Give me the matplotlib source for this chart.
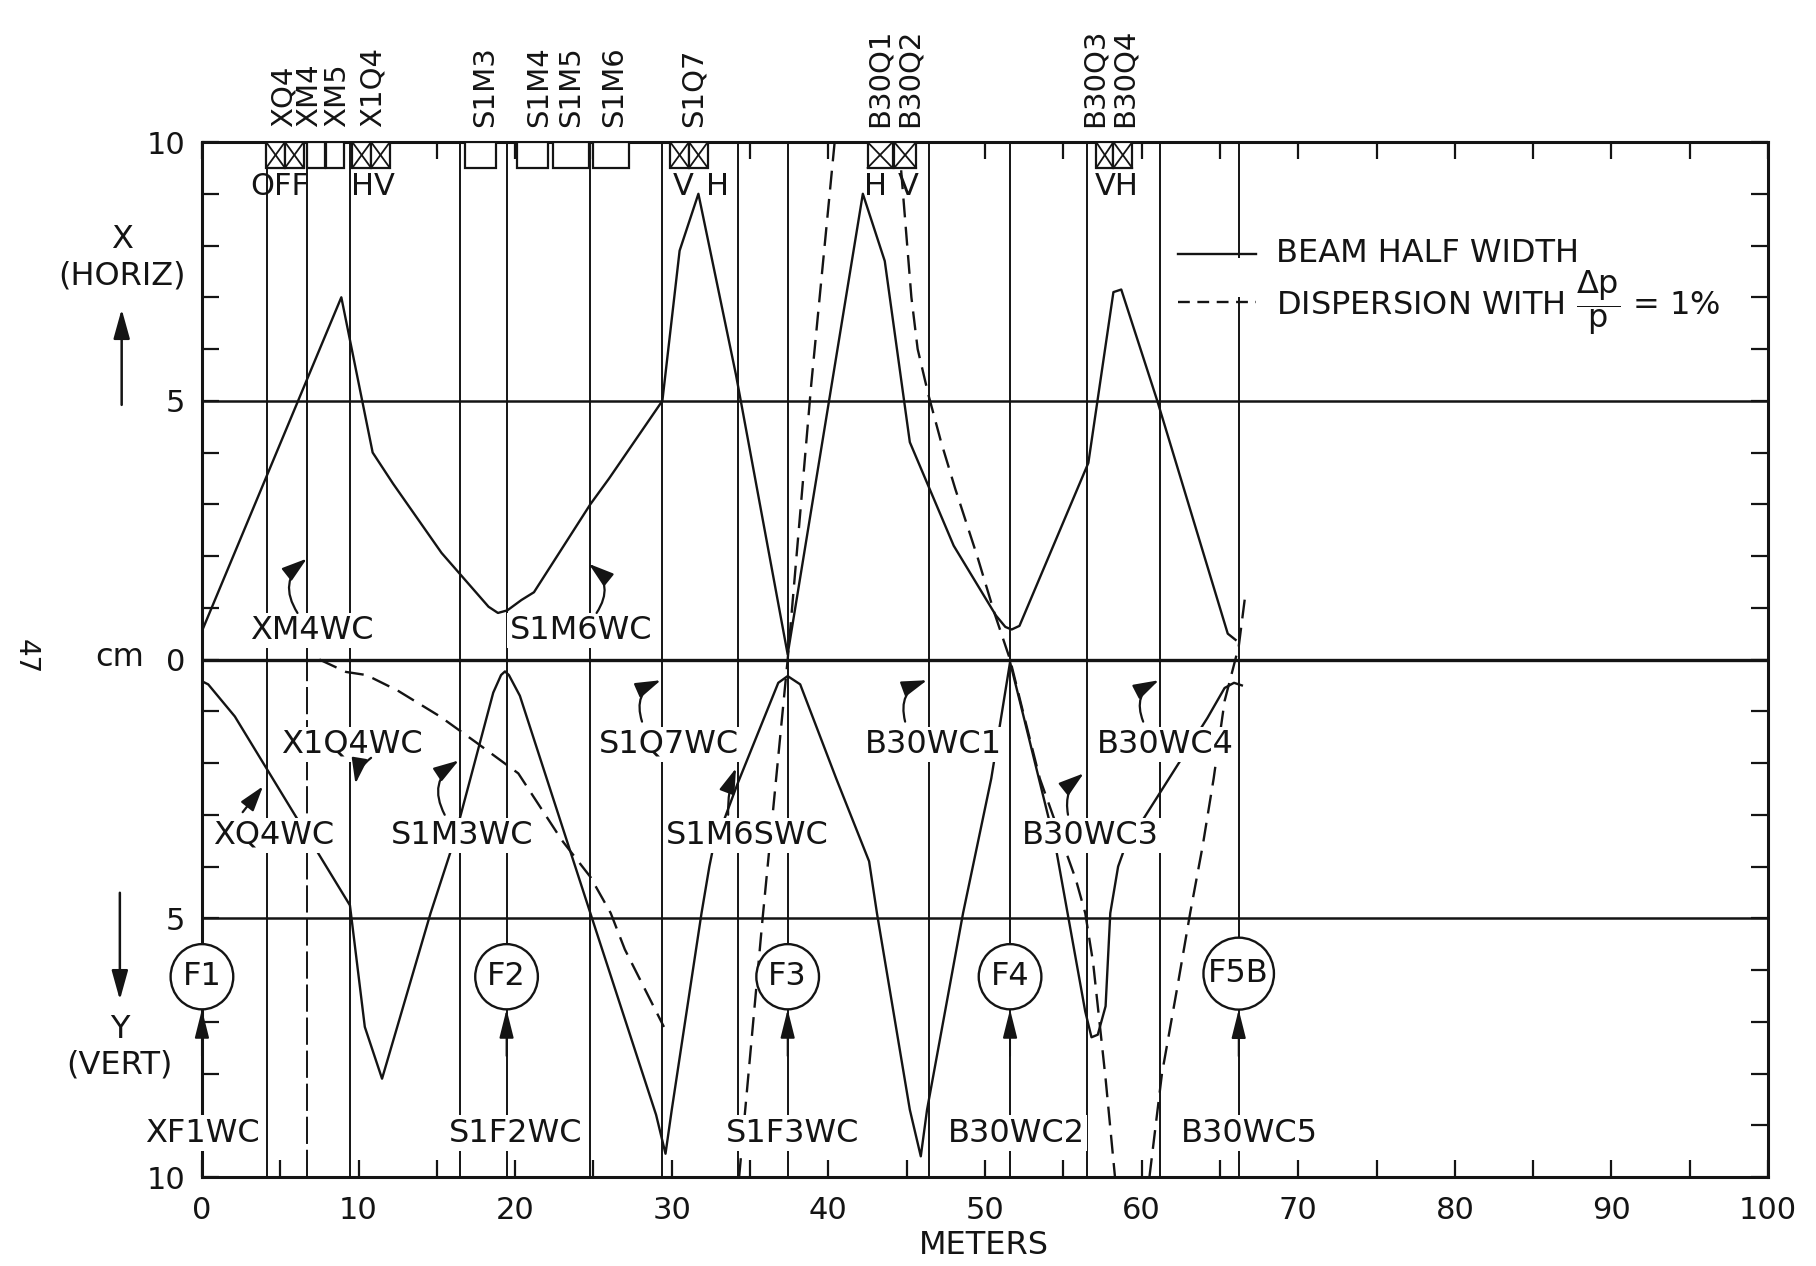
import matplotlib
matplotlib.use("Agg")
from matplotlib import pyplot as plt
from matplotlib import rcParams
from matplotlib.patches import Rectangle, Ellipse, FancyArrowPatch

ink = "#141414"

rcParams["font.family"] = ["DejaVu Sans"]
rcParams["font.size"] = 22
rcParams["text.color"] = ink
rcParams["axes.edgecolor"] = ink
rcParams["xtick.color"] = ink
rcParams["ytick.color"] = ink
rcParams["mathtext.fontset"] = "dejavusans"

# beam half width, horizontal (cm, plotted upward)
hx_s = [0, 8.9, 10.9, 12.2, 15.3, 18.3, 18.9, 19.5, 20.4, 21.2, 24.8, 26.0, 29.4,
        30.5, 31.7, 34.1, 37.4, 42.2, 43.6, 45.2, 48.0, 50.7, 51.3, 51.7, 52.2,
        56.6, 58.2, 58.7, 61.0, 65.5, 66.0]
hx_v = [0.55, 7.0, 4.0, 3.4, 2.06, 1.02, 0.9, 0.95, 1.15, 1.3, 3.0, 3.5, 5.0,
        7.9, 9.0, 5.5, 0.1, 9.0, 7.7, 4.2, 2.2, 0.85, 0.63, 0.58, 0.65,
        3.8, 7.1, 7.15, 5.0, 0.5, 0.38]

# beam half width, vertical (cm, plotted downward)
vy_s = [0, 0.4, 2.1, 9.45, 10.4, 11.5, 14.6, 16.0, 18.6, 19.1, 19.35, 19.6, 20.3,
        24.8, 29.0, 29.6, 30.0, 31.9, 32.4, 32.6, 34.2, 36.8, 37.4, 38.2, 40.5,
        42.6, 43.1, 45.2, 45.9, 46.3, 48.6, 50.4, 51.6, 52.3, 54.5, 56.4, 56.8,
        57.2, 57.7, 58.0, 58.5, 58.9, 64.2, 65.3, 65.9, 66.4]
vy_v = [0.42, 0.48, 1.1, 4.75, 7.1, 8.1, 4.9, 3.6, 0.64, 0.3, 0.23, 0.3, 0.7,
        4.9, 8.8, 9.55, 8.7, 4.9, 4.0, 3.7, 2.4, 0.45, 0.32, 0.48, 2.3,
        3.9, 4.9, 8.7, 9.6, 8.7, 4.9, 2.3, 0.05, 0.9, 3.6, 6.8, 7.3,
        7.25, 6.7, 4.9, 4.0, 3.66, 1.13, 0.55, 0.45, 0.5]

# dispersion with dp/p = 1% (cm, signed)
disp_a_s = [7.5, 9.2, 10.5, 12.5, 15.2, 17.5, 20.2, 23.0, 24.8, 26.1, 27.0, 29.5]
disp_a_v = [0.0, -0.24, -0.3, -0.6, -1.1, -1.6, -2.2, -3.5, -4.2, -4.9, -5.6, -7.1]
disp_b_s = [34.3, 35.8, 37.4, 38.9, 40.4]
disp_b_v = [-10.0, -5.0, 0.0, 5.3, 10.0]
disp_c_s = [44.5, 44.9, 45.3, 45.7, 46.4, 47.2, 48.1, 49.5, 50.6, 51.6, 52.5, 53.5,
            54.5, 55.8, 56.4, 56.9, 57.7, 58.3]
disp_c_v = [10.0, 8.5, 7.0, 6.0, 5.1, 4.2, 3.3, 2.0, 0.9, 0.0, -1.1, -2.3,
            -3.15, -4.25, -4.9, -5.85, -8.1, -10.0]
disp_d_s = [60.5, 61.3, 62.3, 63.1, 63.9, 64.6, 65.3, 66.2, 66.6]
disp_d_v = [-10.0, -8.0, -6.3, -4.9, -3.6, -2.3, -0.8, 0.25, 1.2]

# element positions along the line (m)
element_lines = [4.15, 9.43, 16.5, 19.45, 24.8, 29.4, 34.2, 37.4, 46.4, 51.6, 56.5, 61.2, 66.2]
dashed_line = 6.7
magnet_boxes = [(6.7, 7.85), (7.95, 9.1), (16.8, 18.8), (20.1, 22.1), (22.4, 24.7), (25.0, 27.3)]
quad_boxes = [(4.1, 5.3), (5.3, 6.5), (9.6, 10.8), (10.8, 12.0), (29.9, 31.1), (31.1, 32.3),
              (42.5, 44.1), (44.2, 45.6), (57.1, 58.2), (58.2, 59.4)]

top_names = ["XQ4", "XM4", "XM5", "X1Q4", "S1M3", "S1M4", "S1M5", "S1M6", "S1Q7",
             "B30Q1", "B30Q2", "B30Q3", "B30Q4"]
top_names_s = [5.2, 6.85, 8.6, 10.9, 18.1, 21.5, 23.6, 26.3, 31.4, 43.3, 45.2, 57.0, 58.9]

plane_marks = ["OFF", "HV", "V", "H", "H", "V", "VH"]
plane_marks_s = [5.0, 10.9, 30.7, 32.9, 43.0, 45.1, 58.4]

wc_names = ["XM4WC", "S1M6WC", "X1Q4WC", "XQ4WC", "S1M3WC", "S1Q7WC", "S1M6SWC",
            "B30WC1", "B30WC3", "B30WC4", "XF1WC", "S1F2WC", "S1F3WC", "B30WC2", "B30WC5"]
wc_s = [7.0, 24.2, 9.6, 4.6, 16.6, 29.8, 34.8, 46.7, 56.7, 61.5, 0.0, 20.0, 37.7, 52.0, 66.9]
wc_v = [0.56, 0.56, -1.64, -3.4, -3.4, -1.64, -3.4, -1.64, -3.4, -1.64,
        -9.15, -9.15, -9.15, -9.15, -9.15]

# wire chamber pointers: start, end, bend
wc_arrows = [((6.1, 0.9), (6.7, 1.95), -0.45), ((25.2, 0.9), (24.7, 1.85), 0.45),
             ((10.8, -1.9), (9.8, -2.4), 0.2), ((2.6, -2.95), (3.9, -2.45), 0.0),
             ((15.5, -3.0), (16.4, -1.95), -0.45), ((28.1, -1.2), (29.3, -0.4), -0.45),
             ((33.6, -3.0), (34.1, -2.1), -0.1), ((44.9, -1.2), (46.3, -0.4), -0.45),
             ((55.3, -3.0), (56.3, -2.2), -0.3), ((60.1, -1.2), (61.1, -0.4), -0.45)]

foil_names = ["F1", "F2", "F3", "F4", "F5B"]
foil_s = [0.0, 19.45, 37.4, 51.6, 66.2]
foil_v = [-6.13, -6.13, -6.13, -6.13, -6.07]
foil_w = [4.0, 4.0, 4.0, 4.0, 4.5]
foil_h = [1.26, 1.26, 1.26, 1.26, 1.39]


fig = plt.figure(figsize=(18.16, 12.66), dpi=100)
ax = fig.add_axes([0.1112, 0.0703, 0.8624, 0.8175])
ax.set_xlim(0, 100)
ax.set_ylim(-10, 10)
for side in ax.spines.values():
    side.set_linewidth(2.2)

ax.set_xticks(range(0, 101, 10))
ax.set_xticks(range(5, 100, 10), minor=True)
ax.tick_params(axis="x", which="both", direction="in", length=12, width=1.6,
               top=True, pad=14, labelsize=22)
ax.set_yticks([-10, -5, 0, 5, 10])
ax.set_yticklabels(["10", "5", "0", "5", "10"])
ax.set_yticks(range(-10, 11), minor=True)
ax.tick_params(axis="y", which="both", direction="in", length=12, width=1.6,
               right=True, pad=12, labelsize=22)

for yv, lw in [(5, 1.8), (0, 2.4), (-5, 1.8)]:
    ax.axhline(yv, color=ink, lw=lw, zorder=2)

ax.vlines(element_lines, -10, 10, color=ink, lw=1.4, zorder=2)
ax.plot([dashed_line, dashed_line], [0, 10], color=ink, lw=1.4, zorder=2)
ax.plot([dashed_line, dashed_line], [-10, 0], color=ink, lw=1.4, dashes=(14, 3), zorder=2)

# magnets hanging from the top edge
for s0, s1 in magnet_boxes:
    ax.add_patch(Rectangle((s0, 9.5), s1 - s0, 0.5, facecolor="white", edgecolor=ink,
                           lw=1.6, zorder=4))
for s0, s1 in quad_boxes:
    ax.add_patch(Rectangle((s0, 9.5), s1 - s0, 0.5, facecolor="white", edgecolor=ink,
                           lw=1.6, zorder=4))
    ax.plot([s0, s1], [9.5, 10], color=ink, lw=1.3, zorder=5)
    ax.plot([s0, s1], [10, 9.5], color=ink, lw=1.3, zorder=5)

for name, s in zip(top_names, top_names_s):
    ax.text(s, 10.3, name, rotation=90, ha="center", va="bottom", fontsize=21,
            clip_on=False)
for mark, s in zip(plane_marks, plane_marks_s):
    ax.text(s, 9.15, mark, ha="center", va="center", fontsize=22)

# curves
ax.plot(hx_s, hx_v, color=ink, lw=1.7, zorder=3)
ax.plot(vy_s, [-v for v in vy_v], color=ink, lw=1.7, zorder=3)
for ds, dv in [(disp_a_s, disp_a_v), (disp_b_s, disp_b_v), (disp_c_s, disp_c_v),
               (disp_d_s, disp_d_v)]:
    ax.plot(ds, dv, color=ink, lw=1.7, dashes=(8, 4), zorder=3)

# wire chambers
for name, s, v in zip(wc_names, wc_s, wc_v):
    ax.text(s, v, name, ha="center", va="center", fontsize=23, zorder=6,
            bbox=dict(facecolor="white", edgecolor="none", pad=1.5))
for start, end, rad in wc_arrows:
    ax.annotate("", xy=end, xytext=start, zorder=6,
                arrowprops=dict(arrowstyle="-|>,head_length=0.7,head_width=0.22",
                                connectionstyle=f"arc3,rad={rad}", color=ink, lw=1.6,
                                shrinkA=0, shrinkB=0))

# foils
for name, s, v, w, h in zip(foil_names, foil_s, foil_v, foil_w, foil_h):
    ax.add_patch(Ellipse((s, v), w, h, facecolor="white", edgecolor=ink, lw=1.7,
                         zorder=7, clip_on=False))
    ax.text(s, v, name, ha="center", va="center", fontsize=23, zorder=8, clip_on=False)
    ax.annotate("", xy=(s, v - h / 2), xytext=(s, v - h / 2 - 0.9), zorder=8,
                arrowprops=dict(arrowstyle="-|>,head_length=0.8,head_width=0.2",
                                color=ink, lw=1.4, shrinkA=0, shrinkB=0))

# legend
ax.plot([62.3, 67.3], [7.84, 7.84], color=ink, lw=1.7, zorder=5)
ax.plot([62.3, 67.3], [6.9, 6.9], color=ink, lw=1.7, dashes=(5, 3.2), zorder=5)
ax.add_patch(Rectangle((65.8, 7.0), 0.8, 0.75, facecolor="white", edgecolor="none",
                       zorder=4))
ax.text(68.6, 7.84, "BEAM HALF WIDTH", ha="left", va="center", fontsize=23)
ax.text(68.6, 6.9, r"DISPERSION WITH $\dfrac{\Delta\mathrm{p}}{\mathrm{p}}$ = 1%",
        ha="left", va="center", fontsize=23)

# left side captions
fig.text(0.067, 0.811, "X", ha="center", va="center", fontsize=23)
fig.text(0.067, 0.782, "(HORIZ)", ha="center", va="center", fontsize=23)
fig.text(0.066, 0.187, "Y", ha="center", va="center", fontsize=23)
fig.text(0.066, 0.159, "(VERT)", ha="center", va="center", fontsize=23)
fig.text(0.066, 0.481, "cm", ha="center", va="center", fontsize=23)
fig.text(0.014, 0.481, "47", ha="center", va="center", fontsize=20, rotation=-90)
fig.text(0.542, 0.004, "METERS", ha="center", va="bottom", fontsize=23)
fig.patches.append(FancyArrowPatch(
    (0.067, 0.678), (0.067, 0.758), transform=fig.transFigure, figure=fig,
    arrowstyle="-|>,head_length=0.9,head_width=0.25", mutation_scale=20, color=ink, lw=1.8))
fig.patches.append(FancyArrowPatch(
    (0.066, 0.297), (0.066, 0.208), transform=fig.transFigure, figure=fig,
    arrowstyle="-|>,head_length=0.9,head_width=0.25", mutation_scale=20, color=ink, lw=1.8))

fig.savefig("out.png", dpi=100, facecolor="white")
